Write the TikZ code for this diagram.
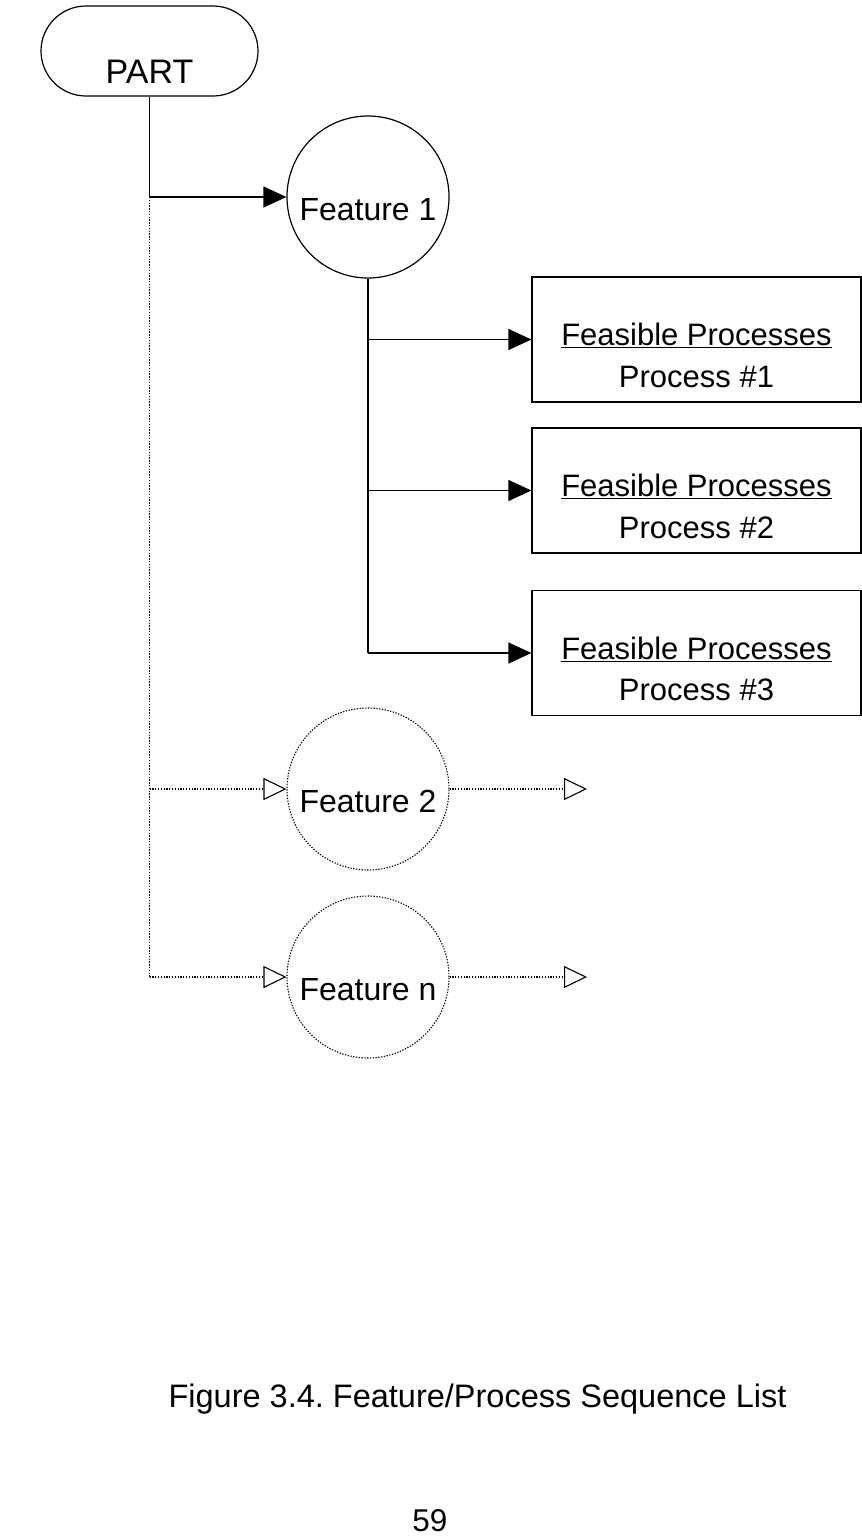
\documentclass[tikz,border=0pt]{standalone}
\usepackage{fontspec}
\setmainfont{Liberation Sans}
\usetikzlibrary{arrows.meta}
\frenchspacing

\tikzset{
  thin line/.style={line width=1.2pt, draw=black},
  dotline/.style={line width=1.1pt, draw=black, dash pattern=on 1.3pt off 1.5pt},
  solidtip/.style={-{Triangle[length=23pt,width=21pt]}},
  opentip/.style={-{Triangle[open,length=23pt,width=22pt,line width=1.1pt]}},
  partbox/.style={thin line, rectangle, rounded corners=45pt, minimum width=217pt,
    minimum height=90pt, inner sep=0pt, text height=64pt, text depth=0pt,
    font=\fontsize{34}{40}\selectfont},
  featcircle/.style={circle, minimum size=162pt, inner sep=0pt, text height=46pt,
    text depth=0pt, font=\fontsize{32}{38}\selectfont},
  procbox/.style={thin line, rectangle, minimum width=329pt, minimum height=125pt, inner sep=0pt},
  boxtext/.style={anchor=base, inner sep=0pt, font=\fontsize{31}{37}\selectfont},
}

\begin{document}
\begin{tikzpicture}[x=1pt, y=-1pt]
  \useasboundingbox (0,0) rectangle (862,1540);

  % start node
  \node[partbox] (part) at (149.5,51) {PART};

  % features
  \node[featcircle, thin line] (f1) at (368,197) {Feature 1};
  \node[featcircle, dotline]   (f2) at (368,789) {Feature 2};
  \node[featcircle, dotline]   (fn) at (368,977) {Feature n};

  % feasible process boxes
  \node[procbox] (b1) at (696.5,339.5) {};
  \node[procbox] (b2) at (696.5,490.5) {};
  \node[procbox] (b3) at (696.5,653) {};
  \foreach \b/\n in {b1/1, b2/2, b3/3}{
    \node[boxtext] (\b t) at ([yshift=-6.2pt]\b.center) {\underline{Feasible Processes}};
    \node[boxtext] (\b p) at ([yshift=-47.5pt]\b.center) {Process \#\n};
  }

  % junctions on the trunk lines
  \coordinate (j1) at (part.south |- f1.west);
  \coordinate (j2) at (part.south |- f2.west);
  \coordinate (jn) at (part.south |- fn.west);
  \coordinate (k1) at (f1.south |- b1.west);
  \coordinate (k2) at (f1.south |- b2.west);
  \coordinate (k3) at (f1.south |- b3.west);
  \coordinate (e2) at (587,789);
  \coordinate (en) at (587,977);

  % part to features
  \draw[thin line, solidtip] (part.south) -- (j1) -- (f1.west);
  \draw[dotline] (j1) -- (jn);
  \draw[dotline, opentip] (j2) -- (f2.west);
  \draw[dotline, opentip] (jn) -- (fn.west);

  % feature 1 to its processes
  \draw[thin line] (f1.south) -- (k3);
  \draw[thin line, solidtip] (k1) -- (b1.west);
  \draw[thin line, solidtip] (k2) -- (b2.west);
  \draw[thin line, solidtip] (k3) -- (b3.west);

  % further features continue
  \draw[dotline, opentip] (f2.east) -- (e2);
  \draw[dotline, opentip] (fn.east) -- (en);

  % caption and page number
  \node[anchor=base, inner sep=0pt, font=\fontsize{32.5}{38}\selectfont] (cap) at (477.5,1407)
    {Figure 3.4. Feature/Process Sequence List};
  \node[anchor=base, inner sep=0pt, font=\fontsize{31.5}{38}\selectfont] (pg) at (430,1531) {59};
\end{tikzpicture}
\end{document}
